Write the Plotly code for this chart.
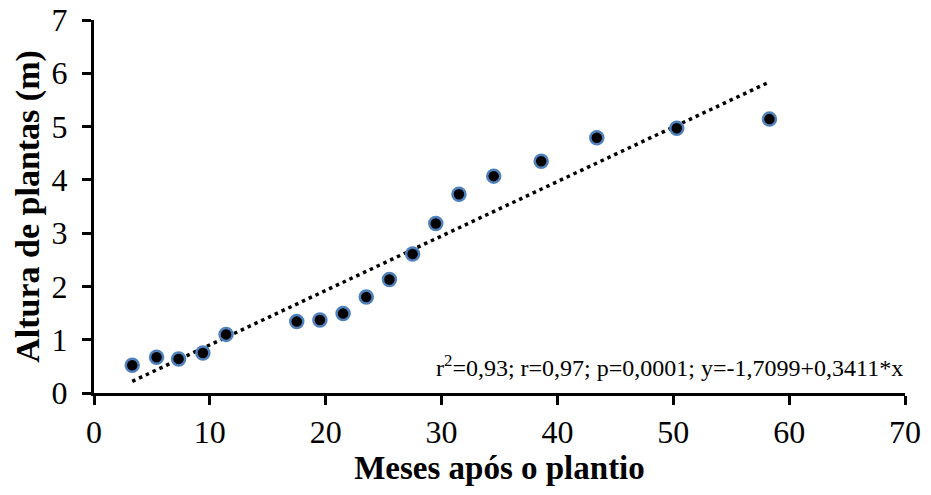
import numpy as np
import plotly.graph_objects as go

meses = [3.3, 5.4, 7.3, 9.4, 11.4, 17.5, 19.5, 21.5, 23.5, 25.5, 27.5, 29.5, 31.5, 34.5, 38.6, 43.4, 50.3, 58.3]
altura = [0.52, 0.67, 0.64, 0.75, 1.10, 1.34, 1.37, 1.49, 1.80, 2.13, 2.61, 3.18, 3.73, 4.07, 4.35, 4.79, 4.97, 5.14]
x_ticks = [0, 10, 20, 30, 40, 50, 60, 70]
y_ticks = [0, 1, 2, 3, 4, 5, 6, 7]
eq_text = "r<sup>2</sup>=0,93; r=0,97; p=0,0001; y=-1,7099+0,3411*x"

slope, intercept = np.polyfit(meses, altura, 1)
xf = np.array([min(meses), max(meses)])
yf = intercept + slope * xf

FONT = "Liberation Serif"
fig = go.Figure()
fig.add_trace(go.Scatter(x=xf, y=yf, mode="lines",
                         line=dict(color="black", width=3.5, dash="3.5px,4px"),
                         showlegend=False, hoverinfo="skip"))
fig.add_trace(go.Scatter(x=meses, y=altura, mode="markers",
                         marker=dict(color="black", size=13,
                                     line=dict(color="#4F81BD", width=2.5)),
                         showlegend=False))

axis_common = dict(showline=True, linecolor="black", linewidth=3,
                   ticks="outside", ticklen=9, tickwidth=3, tickcolor="black",
                   showgrid=False, zeroline=False, automargin=False,
                   tickfont=dict(family=FONT, size=32, color="black"))
fig.update_xaxes(range=[0, 70], tickvals=x_ticks,
                 title=dict(text="<b>Meses após o plantio</b>",
                            font=dict(family=FONT, size=33, color="black"),
                            standoff=6),
                 **axis_common)
fig.update_yaxes(range=[0, 7], tickvals=y_ticks, ticklabelstandoff=8,
                 title=dict(text="<b>Altura de plantas (m)</b>",
                            font=dict(family=FONT, size=34, color="black"),
                            standoff=2),
                 **axis_common)
fig.add_annotation(x=1, xref="paper", xanchor="right", y=0.5, yref="y", yanchor="middle",
                   text=eq_text, showarrow=False,
                   font=dict(family=FONT, size=24, color="black"))
fig.update_layout(width=931, height=495,
                  margin=dict(l=94, r=26, t=20, b=102),
                  paper_bgcolor="white", plot_bgcolor="white")
fig.write_html("out.html")
